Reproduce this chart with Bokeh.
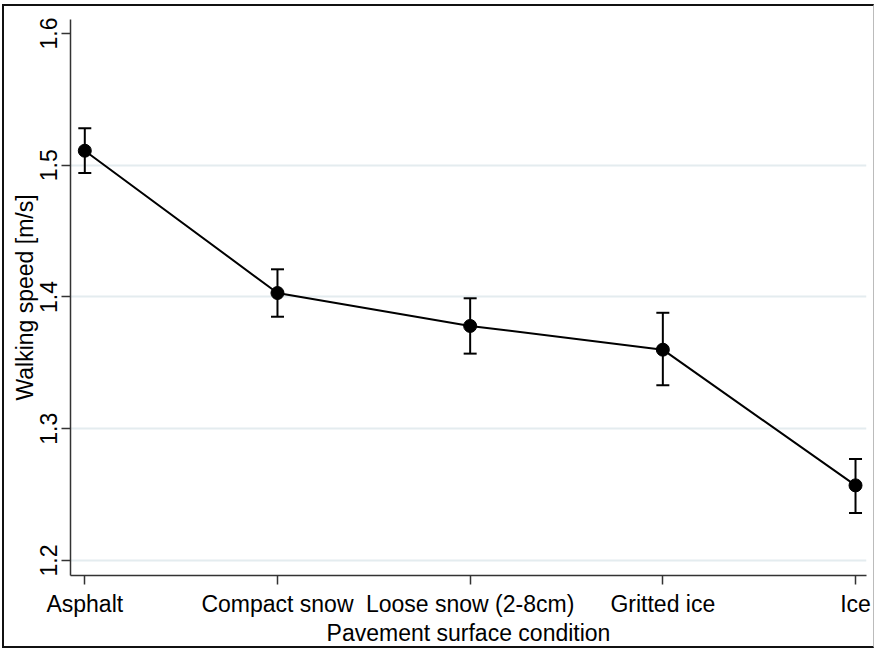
from bokeh.plotting import figure
from bokeh.models import Range1d, FixedTicker, Whisker, TeeHead, ColumnDataSource
from bokeh.embed import file_html
from bokeh.resources import INLINE

categories = ["Asphalt", "Compact snow", "Loose snow (2-8cm)", "Gritted ice", "Ice"]
speed = [1.511, 1.403, 1.378, 1.360, 1.257]
upper = [1.528, 1.421, 1.399, 1.388, 1.277]
lower = [1.494, 1.385, 1.357, 1.333, 1.236]
y_ticks = [1.2, 1.3, 1.4, 1.5, 1.6]
grid_ticks = [1.2, 1.3, 1.4, 1.5]

xs = list(range(len(categories)))
src = ColumnDataSource(dict(x=xs, y=speed, up=upper, lo=lower))

FONT = "Liberation Sans"

p = figure(width=872, height=644, output_backend="svg", toolbar_location=None,
           x_range=Range1d(-0.0742, 4.057), y_range=Range1d(1.1886, 1.6106),
           min_border_left=66, min_border_top=13, min_border_right=10, min_border_bottom=75)
p.styles = {"margin-left": "2px", "margin-top": "4px", "margin-bottom": "-13px",
            "border-left": "2px solid #111", "border-top": "2px solid #111",
            "border-bottom": "2px solid #111", "border-right": "1px solid #bbbbbb"}
p.outline_line_color = None
p.background_fill_color = "white"
p.border_fill_color = "white"

p.xgrid.visible = False
p.ygrid.ticker = FixedTicker(ticks=grid_ticks)
p.ygrid.grid_line_color = "#e4ecef"
p.ygrid.grid_line_width = 2

for ax in (p.xaxis[0], p.yaxis[0]):
    ax.axis_line_color = "#333333"
    ax.axis_line_width = 1.5
    ax.major_tick_line_color = "#333333"
    ax.major_tick_line_width = 1.5
    ax.major_tick_out = 9
    ax.major_tick_in = 0
    ax.minor_tick_line_color = None
    ax.major_label_text_font = FONT
    ax.major_label_text_font_size = "23px"
    ax.major_label_text_color = "black"
    ax.axis_label_text_font = FONT
    ax.axis_label_text_font_size = "23px"
    ax.axis_label_text_font_style = "normal"
    ax.axis_label_text_color = "black"

p.xaxis.ticker = FixedTicker(ticks=xs)
p.xaxis.major_label_overrides = {i: c for i, c in zip(xs, categories)}
p.xaxis.axis_label = "Pavement surface condition"
p.xaxis.major_label_standoff = 6
p.xaxis.axis_label_standoff = 0

p.yaxis.ticker = FixedTicker(ticks=y_ticks)
p.yaxis.major_label_overrides = {t: f"{t:.1f}" for t in y_ticks}
p.yaxis.major_label_orientation = "vertical"
p.yaxis.axis_label = "Walking speed [m/s]"
p.yaxis.major_label_standoff = 4
p.yaxis.axis_label_standoff = 0

w = Whisker(source=src, base="x", upper="up", lower="lo", line_color="black", line_width=2,
            upper_head=TeeHead(size=13, line_color="black", line_width=2),
            lower_head=TeeHead(size=13, line_color="black", line_width=2))
p.add_layout(w)

p.line("x", "y", source=src, line_color="black", line_width=2)
p.scatter("x", "y", source=src, size=13, color="black")

open("out.html", "w").write(file_html(p, INLINE))
